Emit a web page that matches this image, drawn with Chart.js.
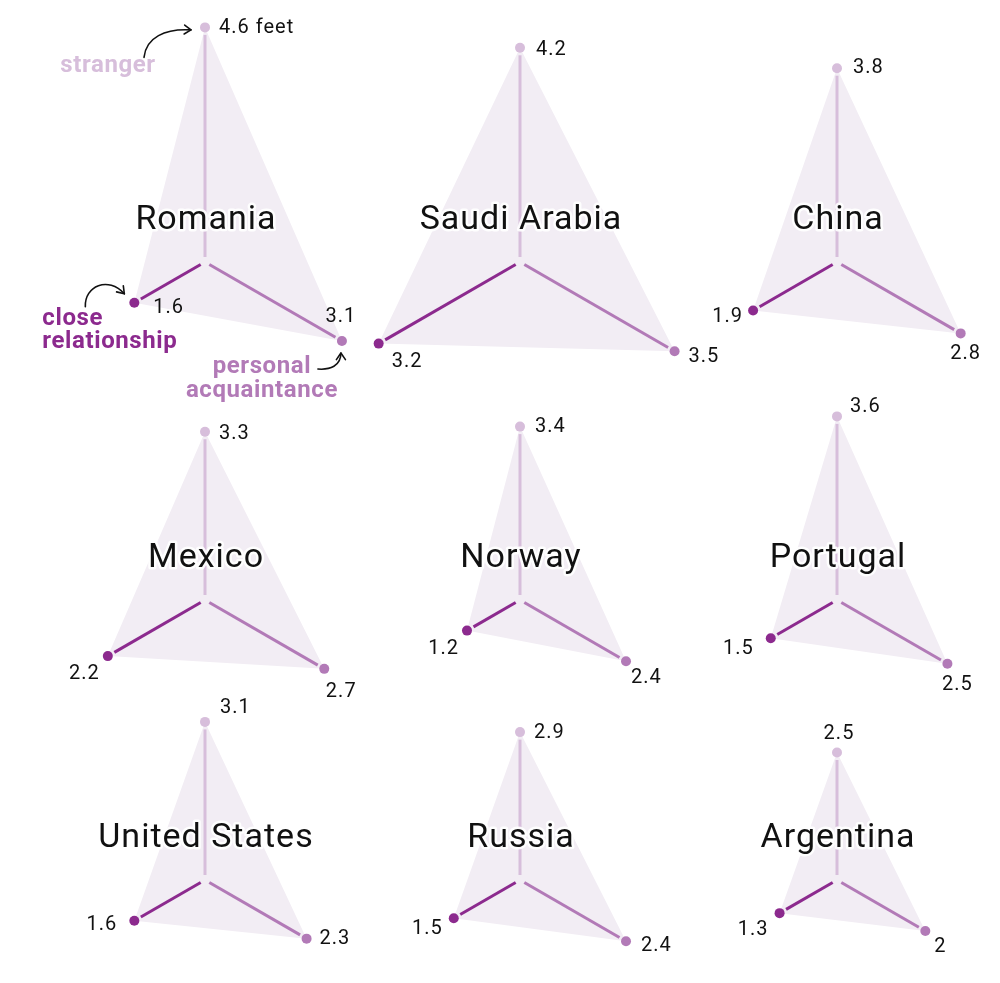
<!DOCTYPE html>
<html><head><meta charset="utf-8">
<script src="https://cdn.jsdelivr.net/npm/chart.js@4"></script>
<style>
html,body{margin:0;padding:0;background:#fff;overflow:hidden;width:1000px;height:983px;}
#wrap{position:relative;width:1000px;height:983px;overflow:hidden;}
#wrap canvas{position:absolute;}
</style></head><body><div id="wrap"></div>
<script>
// ---- data ----
const countries = ['Romania','Saudi Arabia','China','Mexico','Norway','Portugal','United States','Russia','Argentina'];
const axes = ['stranger','personal acquaintance','close relationship'];
const stranger = [4.6, 4.2, 3.8, 3.3, 3.4, 3.6, 3.1, 2.9, 2.5];
const personal = [3.1, 3.5, 2.8, 2.7, 2.4, 2.5, 2.3, 2.4, 2.0];
const closeRel = [1.6, 3.2, 1.9, 2.2, 1.2, 1.5, 1.6, 1.5, 1.3];
const unitSuffix = ' feet';

// ---- layout / style ----
const scaleMax = 5;
const R = 255;
const centersX = [205, 520, 837];
const centersY = [262, 600, 880];
const COLORS = ['#d7bedb', '#b27ab7', '#8c2a8e'];
const FILL = '#f2edf4';
// value-label offsets from each dot: [dx, dy, align] for stranger, personal, close
const labelOffsets = [
  [[14, 1, 'left'], [-1, -24, 'center'], [19, 5, 'left']],
  [[16, 2, 'left'], [14, 6, 'left'], [13, 18, 'left']],
  [[16, 0, 'left'], [5, 21, 'center'], [-10, 7, 'right']],
  [[14, 2, 'left'], [17, 23, 'center'], [-8, 18, 'right']],
  [[15, 0, 'left'], [5, 17, 'left'], [-8, 18, 'right']],
  [[13, -9, 'left'], [10, 21, 'center'], [-17, 11, 'right']],
  [[15, -14, 'left'], [13, 0, 'left'], [-17, 4, 'right']],
  [[14, 1, 'left'], [15, 5, 'left'], [-11, 11, 'right']],
  [[2, -19, 'center'], [9, 16, 'left'], [-11, 17, 'right']]
];

function arrow(ctx, p0, c1, c2, p1) {
  ctx.beginPath();
  ctx.moveTo(p0[0], p0[1]);
  ctx.bezierCurveTo(c1[0], c1[1], c2[0], c2[1], p1[0], p1[1]);
  ctx.stroke();
  const ang = Math.atan2(p1[1] - c2[1], p1[0] - c2[0]);
  const L = 8, a = 0.6;
  ctx.beginPath();
  ctx.moveTo(p1[0] - L * Math.cos(ang - a), p1[1] - L * Math.sin(ang - a));
  ctx.lineTo(p1[0], p1[1]);
  ctx.lineTo(p1[0] - L * Math.cos(ang + a), p1[1] - L * Math.sin(ang + a));
  ctx.stroke();
}

const overlay = {
  id: 'overlay',
  afterDatasetsDraw(chart) {
    const ctx = chart.ctx;
    const sc = chart.scales.r;
    const i = chart.options.plugins.overlay.index;
    const vals = chart.data.datasets[0].data;
    ctx.save();
    // spokes
    ctx.lineWidth = 3;
    ctx.lineCap = 'butt';
    const dots = [];
    vals.forEach((v, k) => {
      const d = sc.getDistanceFromCenterForValue(v);
      const a = sc.getPointPosition(k, 5);
      const b = sc.getPointPosition(k, d - 7.5);
      dots.push(sc.getPointPosition(k, d));
      ctx.strokeStyle = COLORS[k];
      ctx.beginPath();
      ctx.moveTo(a.x, a.y);
      ctx.lineTo(b.x, b.y);
      ctx.stroke();
    });
    // title
    ctx.font = '34px Roboto';
    try { ctx.letterSpacing = '1px'; } catch (e) {}
    ctx.textAlign = 'center';
    ctx.textBaseline = 'alphabetic';
    ctx.lineJoin = 'round';
    ctx.strokeStyle = 'rgba(255,255,255,0.9)';
    ctx.lineWidth = 5;
    ctx.strokeText(countries[i], sc.xCenter + 1, sc.yCenter - 33);
    ctx.fillStyle = '#111';
    ctx.fillText(countries[i], sc.xCenter + 1, sc.yCenter - 33);
    // value labels
    ctx.font = '20px Roboto';
    try { ctx.letterSpacing = '1px'; } catch (e) {}
    ctx.textBaseline = 'middle';
    ctx.fillStyle = '#111';
    vals.forEach((v, k) => {
      const o = labelOffsets[i][k];
      ctx.textAlign = o[2];
      let t = String(v);
      if (i === 0 && k === 0) t += unitSuffix;
      ctx.fillText(t, dots[k].x + o[0], dots[k].y + o[1]);
    });
    // annotations (first chart only)
    if (i === 0) {
      const S = dots[0], P = dots[1], C = dots[2];
      ctx.font = 'bold 24px Roboto';
      try { ctx.letterSpacing = '0.6px'; } catch (e) {}
      ctx.textBaseline = 'alphabetic';
      ctx.textAlign = 'center';
      ctx.fillStyle = COLORS[0];
      ctx.fillText(axes[0], S.x - 97, S.y + 45);
      ctx.fillStyle = COLORS[1];
      ctx.fillText('personal', P.x - 80, P.y + 32);
      ctx.fillText('acquaintance', P.x - 80, P.y + 56);
      ctx.textAlign = 'left';
      ctx.fillStyle = COLORS[2];
      ctx.fillText('close', C.x - 92, C.y + 22);
      ctx.fillText('relationship', C.x - 92, C.y + 45);
      ctx.strokeStyle = '#111';
      ctx.lineWidth = 1.6;
      ctx.lineCap = 'round';
      ctx.lineJoin = 'round';
      arrow(ctx, [S.x - 61, S.y + 30], [S.x - 59, S.y + 10], [S.x - 40, S.y + 1], [S.x - 14, S.y + 2.5]);
      arrow(ctx, [C.x - 49, C.y + 4], [C.x - 50, C.y - 17], [C.x - 26, C.y - 27], [C.x - 10, C.y - 9]);
      arrow(ctx, [P.x - 24, P.y + 28], [P.x - 12, P.y + 29], [P.x - 1, P.y + 25], [P.x - 1, P.y + 12]);
    }
    ctx.restore();
  }
};

const wrap = document.getElementById('wrap');
countries.forEach((name, i) => {
  const cx = centersX[i % 3], cy = centersY[Math.floor(i / 3)];
  const cv = document.createElement('canvas');
  cv.width = 2 * R; cv.height = 2 * R;
  cv.style.left = (cx - R) + 'px';
  cv.style.top = (cy - R) + 'px';
  cv.style.width = 2 * R + 'px';
  cv.style.height = 2 * R + 'px';
  wrap.appendChild(cv);
  new Chart(cv, {
    type: 'radar',
    data: {
      labels: axes,
      datasets: [{
        data: [stranger[i], personal[i], closeRel[i]],
        fill: true,
        backgroundColor: FILL,
        borderWidth: 0,
        borderColor: 'rgba(0,0,0,0)',
        pointRadius: 5,
        pointHoverRadius: 5,
        pointBorderWidth: 0,
        pointBackgroundColor: COLORS
      }]
    },
    options: {
      responsive: false,
      animation: false,
      devicePixelRatio: 1,
      events: [],
      layout: { padding: 0 },
      plugins: { legend: { display: false }, tooltip: { enabled: false }, overlay: { index: i } },
      scales: {
        r: {
          min: 0, max: scaleMax,
          ticks: { display: false },
          grid: { display: false },
          angleLines: { display: false },
          pointLabels: { display: false }
        }
      }
    },
    plugins: [overlay]
  });
});
</script>
</body></html>
